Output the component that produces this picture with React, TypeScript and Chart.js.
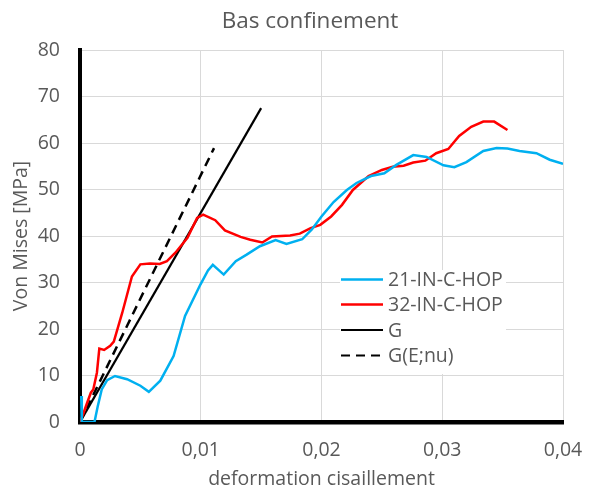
import React, { useEffect, useRef } from 'react';
import { Chart, registerables } from 'chart.js';

Chart.register(...registerables);

const chartTitle = 'Bas confinement';
const xAxisTitle = 'deformation cisaillement';
const yAxisTitle = 'Von Mises [MPa]';
const seriesNames = ['21-IN-C-HOP', '32-IN-C-HOP', 'G', 'G(E;nu)'];
const seriesColors = ['#00B0F0', '#FF0000', '#000000', '#000000'];

const blueX = [0.0001, 0.00015, 0.0012, 0.00147, 0.0018, 0.00225, 0.0029, 0.0039, 0.005, 0.0057, 0.00665, 0.00775, 0.0087, 0.00996, 0.0106, 0.011, 0.0119, 0.0129, 0.0138, 0.0149, 0.0162, 0.0171, 0.0184, 0.0192, 0.02, 0.021, 0.0221, 0.0229, 0.0241, 0.0252, 0.0262, 0.0276, 0.0287, 0.0301, 0.031, 0.032, 0.0334, 0.0345, 0.0354, 0.0364, 0.0378, 0.0389, 0.04];
const blueY = [5.6, 0, 0, 3.4, 7, 9, 9.9, 9.2, 7.8, 6.5, 8.9, 14.2, 22.8, 29.5, 32.6, 33.8, 31.7, 34.6, 36.0, 37.8, 39.1, 38.3, 39.3, 41.4, 44.2, 47.3, 49.9, 51.4, 52.9, 53.5, 55.3, 57.4, 57.0, 55.2, 54.8, 55.9, 58.3, 58.9, 58.8, 58.3, 57.8, 56.4, 55.5];

const redX = [0, 0.0003, 0.0006, 0.0009, 0.0011, 0.0014, 0.0016, 0.002, 0.0025, 0.0028, 0.0035, 0.0043, 0.005, 0.0058, 0.0066, 0.0072, 0.0079, 0.0089, 0.0097, 0.0102, 0.0112, 0.012, 0.0133, 0.0141, 0.0151, 0.0159, 0.0174, 0.0182, 0.0191, 0.0199, 0.0208, 0.0217, 0.0226, 0.0239, 0.025, 0.0259, 0.0268, 0.0276, 0.0286, 0.0295, 0.0305, 0.0314, 0.0324, 0.0334, 0.0343, 0.0354];
const redY = [0, 2, 4.2, 6.3, 7, 10.6, 15.8, 15.5, 16.4, 17.3, 23.5, 31.3, 33.9, 34.1, 34.0, 34.6, 36.4, 39.6, 43.9, 44.6, 43.4, 41.2, 39.8, 39.2, 38.6, 39.9, 40.1, 40.5, 41.7, 42.4, 44.2, 46.7, 49.9, 52.9, 54.2, 54.9, 55.1, 55.8, 56.2, 57.8, 58.7, 61.5, 63.5, 64.6, 64.6, 62.8];

const gX = [0, 0.015];
const gY = [0, 67.5];
const gEX = [0, 0.0111];
const gEY = [0, 58.9];

const xMin = 0, xMax = 0.04, xStep = 0.01;
const yMin = 0, yMax = 80, yStep = 10;

const FONT = '"Open Sans", "DejaVu Sans", sans-serif';
const TEXT = '#595959';

const toPts = (xs: number[], ys: number[]) => xs.map((x, i) => ({ x, y: ys[i] }));

const titleAndLegend = {
  id: 'titleAndLegend',
  afterDraw(chart: any) {
    const ctx = chart.ctx as CanvasRenderingContext2D;
    ctx.save();
    // chart title
    ctx.fillStyle = TEXT;
    ctx.font = `22.5px ${FONT}`;
    ctx.textAlign = 'center';
    ctx.textBaseline = 'alphabetic';
    ctx.fillText(chartTitle, 310, 28);
    // legend box inside plot
    ctx.fillStyle = '#ffffff';
    ctx.fillRect(340, 270, 166, 104);
    const rows = [279.5, 304.5, 330, 355.5];
    ctx.font = `19.5px ${FONT}`;
    ctx.textBaseline = 'middle';
    ctx.textAlign = 'left';
    seriesNames.forEach((name, i) => {
      const y = rows[i];
      ctx.beginPath();
      ctx.strokeStyle = seriesColors[i];
      ctx.lineWidth = i < 2 ? 2.5 : 2.2;
      ctx.setLineDash(i === 3 ? [9, 6] : []);
      ctx.moveTo(341, y);
      ctx.lineTo(383, y);
      ctx.stroke();
      ctx.setLineDash([]);
      ctx.fillStyle = TEXT;
      ctx.fillText(name, 388, y + 1);
    });
    ctx.restore();
  },
};

export default function App() {
  const ref = useRef<HTMLCanvasElement>(null);
  useEffect(() => {
    if (!ref.current) return;
    const chart = new Chart(ref.current, {
      type: 'scatter',
      data: {
        datasets: [
          { label: seriesNames[0], data: toPts(blueX, blueY), borderColor: seriesColors[0], backgroundColor: seriesColors[0], showLine: true, borderWidth: 2.5, pointRadius: 0, tension: 0 },
          { label: seriesNames[1], data: toPts(redX, redY), borderColor: seriesColors[1], backgroundColor: seriesColors[1], showLine: true, borderWidth: 2.5, pointRadius: 0, tension: 0 },
          { label: seriesNames[2], data: toPts(gX, gY), borderColor: seriesColors[2], backgroundColor: seriesColors[2], showLine: true, borderWidth: 2.2, pointRadius: 0, tension: 0 },
          { label: seriesNames[3], data: toPts(gEX, gEY), borderColor: seriesColors[3], backgroundColor: seriesColors[3], showLine: true, borderWidth: 2.5, borderDash: [9, 6], pointRadius: 0, tension: 0 },
        ],
      },
      options: {
        animation: false,
        responsive: true,
        maintainAspectRatio: false,
        layout: { padding: { left: 0, right: 0, top: 50, bottom: 0 } },
        plugins: {
          legend: { display: false },
          tooltip: { enabled: false },
          title: { display: false },
        },
        scales: {
          x: {
            type: 'linear',
            min: xMin,
            max: xMax,
            ticks: {
              stepSize: xStep,
              color: TEXT,
              font: { family: FONT, size: 19.5 },
              padding: 17,
              maxRotation: 0,
              callback: (v: any) => (Number(v) === 0 ? '0' : Number(v).toFixed(2).replace('.', ',')),
            },
            grid: { color: '#d9d9d9', lineWidth: 1, drawTicks: false },
            border: { color: '#000000', width: 4.5 },
            title: { display: true, text: xAxisTitle, color: TEXT, font: { family: FONT, size: 19.5 }, padding: { top: 0, bottom: 1 } },
            afterFit: (s: any) => { s.height = 70; s.paddingLeft = 0; s.paddingRight = 26; },
          },
          y: {
            type: 'linear',
            min: yMin,
            max: yMax,
            ticks: {
              stepSize: yStep,
              color: TEXT,
              font: { family: FONT, size: 19.5 },
              padding: 20,
            },
            grid: { color: '#d9d9d9', lineWidth: 1, drawTicks: false },
            border: { color: '#000000', width: 4 },
            title: { display: true, text: yAxisTitle, color: TEXT, font: { family: FONT, size: 19.5 }, padding: { top: 10, bottom: 0 } },
            afterFit: (s: any) => { s.width = 80; s.paddingTop = 0; s.paddingBottom = 0; },
          },
        },
      },
      plugins: [titleAndLegend],
    });
    return () => chart.destroy();
  }, []);
  return (
    <div style={{ position: 'fixed', left: 0, top: 0, width: 589, height: 492, background: '#fff' }}>
      <canvas ref={ref} />
    </div>
  );
}
